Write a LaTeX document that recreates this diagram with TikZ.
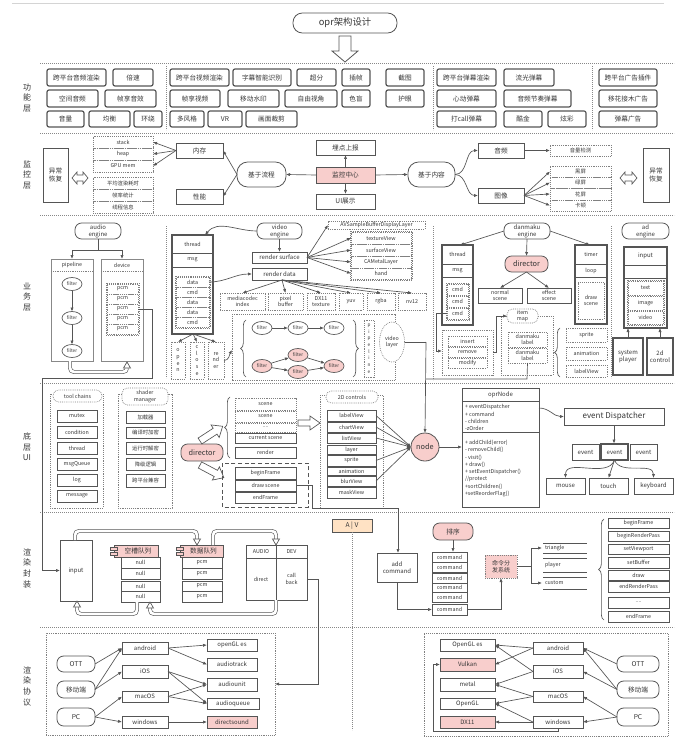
\documentclass[tikz,border=0pt]{standalone}
\usepackage{fontspec}
\setmainfont{Noto Sans CJK SC}
\usetikzlibrary{arrows.meta,shapes.geometric,decorations.pathreplacing}
\definecolor{lnc}{RGB}{85,85,85}
\definecolor{txc}{RGB}{55,55,55}
\definecolor{pkc}{RGB}{248,206,204}
\definecolor{pec}{RGB}{255,226,196}
\newcommand\B[7][]{\node[#1,minimum width={(#4-#2)*0.75pt},minimum height={(#5-#3)*0.75pt}] (#6) at ({(#2+#4)/2},{(#3+#5)/2}) {#7};}
\newcommand\tridown[2]{\draw[cn,fill=white] (#1-3.5,#2-6) -- (#1+3.5,#2-6) -- (#1,#2) -- cycle;}
\newcommand\triup[2]{\draw[cn,fill=white] (#1-3.5,#2+6) -- (#1+3.5,#2+6) -- (#1,#2) -- cycle;}
\tikzset{
 every node/.style={inner sep=0pt,outer sep=0pt,text=txc,align=center,font=\fontsize{4}{4.8}\selectfont},
 f5/.style={font=\fontsize{5}{6}\selectfont},
 f45/.style={font=\fontsize{4.5}{5.2}\selectfont},
 f35/.style={font=\fontsize{3.5}{4.2}\selectfont},
 lay/.style={font=\fontsize{6}{8}\selectfont},
 bx/.style={draw=lnc,line width=0.5pt},
 fb/.style={draw=lnc,line width=0.9pt,rounded corners=1.5pt,f5},
 db/.style={draw=lnc!75,line width=0.5pt,dash pattern=on 0.6pt off 0.8pt},
 rb/.style={draw=lnc,line width=0.6pt,rounded corners=5pt},
 pkf/.style={fill=pkc},
 ar/.style={draw=lnc,line width=0.5pt,-{Latex[length=3pt,width=2.4pt]}},
 cn/.style={draw=lnc,line width=0.5pt},
 sep/.style={draw=lnc!70,line width=0.6pt,dash pattern=on 0.6pt off 0.9pt},
 pipe/.style={draw=lnc,line width=0.45pt,double=white,double distance=2pt,rounded corners=3pt},
 fl/.style={ellipse,draw=lnc,line width=0.5pt,minimum width=20*0.75pt,minimum height=13*0.75pt,f35},
 brc/.style={cn,decorate,decoration={brace,amplitude=4pt}},
}
\begin{document}
\begin{tikzpicture}[x=0.75pt,y=-0.75pt]
\fill[white] (0,0) rectangle (674,752);
\useasboundingbox (0,0) rectangle (674,752);
\draw[lnc!25,line width=0.6pt] (12,3) -- (664,3);

% ---------- title
\B[rb,rounded corners=7pt,font=\fontsize{7}{8}\selectfont]{293}{13}{397}{33}{title}{opr架构设计}
\draw[cn,line width=0.6pt,fill=white] (339,36) -- (351,36) -- (351,51) -- (358,51) -- (345,62) -- (332,51) -- (339,51) -- cycle;

% ---------- separators
\foreach \yy in {63,133,215,383,512,627} \draw[sep] (40,\yy) -- (674,\yy);
\draw[sep] (166,66) -- (166,130);
\draw[sep] (433,66) -- (433,130);
\draw[sep] (592,66) -- (592,130);
\draw[sep] (166,226) -- (166,378);
\draw[sep] (433,226) -- (433,380);
\draw[sep] (611,226) -- (611,378);

% ---------- layer labels
\node[lay] (L1) at (27,98) {功\\能\\层};
\node[lay] (L2) at (27,175) {监\\控\\层};
\node[lay] (L3) at (27,297) {业\\务\\层};
\node[lay] (L4) at (27,447) {底\\层\\UI};
\node[lay] (L5) at (27,568) {渲\\染\\封\\装};
\node[lay] (L6) at (27,686) {渲\\染\\协\\议};

% ---------- functional layer
\B[fb]{47}{69}{106}{86}{fa1}{跨平台音频渲染}
\B[fb]{113}{69}{153}{86}{fa2}{倍速}
\B[fb]{47}{90}{98}{107}{fa3}{空间音频}
\B[fb]{105}{90}{156}{107}{fa4}{帧享音效}
\B[fb]{47}{111}{84}{127}{fa5}{音量}
\B[fb]{89}{111}{130}{127}{fa6}{均衡}
\B[fb]{134}{111}{162}{127}{fa7}{环绕}

\B[fb]{170}{69}{229}{86}{fv1}{跨平台视频渲染}
\B[fb]{233}{69}{291}{86}{fv2}{字幕智能识别}
\B[fb]{297}{69}{336}{86}{fv3}{超分}
\B[fb]{342}{69}{370}{86}{fv4}{插帧}
\B[fb]{386}{69}{424}{86}{fv5}{截图}
\B[fb]{170}{90}{220}{107}{fv6}{帧享视频}
\B[fb]{228}{90}{279}{107}{fv7}{移动水印}
\B[fb]{285}{90}{337}{107}{fv8}{自由视角}
\B[fb]{342}{90}{370}{107}{fv9}{色盲}
\B[fb]{386}{90}{424}{107}{fv10}{护眼}
\B[fb]{170}{111}{204}{127}{fv11}{多风格}
\B[fb]{208}{111}{242}{127}{fv12}{VR}
\B[fb]{246}{111}{297}{127}{fv13}{画面裁剪}

\B[fb]{437}{69}{496}{86}{fd1}{跨平台弹幕渲染}
\B[fb]{504}{69}{554}{86}{fd2}{流光弹幕}
\B[fb]{437}{90}{496}{107}{fd3}{心动弹幕}
\B[fb]{504}{90}{571}{107}{fd4}{音频节奏弹幕}
\B[fb]{437}{111}{496}{127}{fd5}{打call弹幕}
\B[fb]{504}{111}{542}{127}{fd6}{酷金}
\B[fb]{548}{111}{586}{127}{fd7}{炫彩}

\B[fb]{599}{69}{657}{86}{fg1}{跨平台广告插件}
\B[fb]{599}{90}{657}{107}{fg2}{移花接木广告}
\B[fb]{599}{111}{657}{127}{fg3}{弹幕广告}

% ---------- monitoring layer
\B[bx,f5]{43}{148}{68}{202}{yc1}{异常\\恢复}
\draw[cn,fill=white] (72,178) -- (77,172) -- (77,175) -- (83,175) -- (83,172) -- (88,178) -- (83,184) -- (83,181) -- (77,181) -- (77,184) -- cycle;
\B[db]{93}{136}{153}{148}{s1}{stack}
\B[db]{93}{148}{153}{160}{s2}{heap}
\B[db]{93}{160}{153}{172}{s3}{GPU mem}
\B[db]{93}{177}{153}{189}{s4}{平均渲染耗时}
\B[db]{93}{189}{153}{201}{s5}{帧率统计}
\B[db]{93}{201}{153}{213}{s6}{线程信息}
\B[bx,f5]{176}{143}{223}{158}{nc}{内存}
\B[bx,f5]{176}{189}{223}{204}{xn}{性能}
\B[rb,rounded corners=8pt,f5]{237}{162}{286}{187}{jlc}{基于流程}
\B[bx,pkf,f5]{316}{167}{375}{183}{jk}{监控中心}
\B[bx,f5]{316}{140}{375}{155}{md}{埋点上报}
\B[bx,f5]{316}{194}{375}{209}{uis}{UI展示}
\B[rb,rounded corners=8pt,f5]{408}{162}{455}{187}{jnr}{基于内容}
\B[bx,f5]{478}{143}{524}{158}{yp}{音频}
\B[bx,f5]{478}{188}{524}{203}{img}{图像}
\B[db]{550}{145}{611}{156}{ylj}{音量检测}
\B[db]{550}{166}{611}{177}{h1}{黑屏}
\B[db]{550}{177}{611}{188}{h2}{绿屏}
\B[db]{550}{188}{611}{200}{h3}{花屏}
\B[db]{550}{200}{611}{211}{h4}{卡顿}
\draw[cn,fill=white] (620,178) -- (625,172) -- (625,175) -- (632,175) -- (632,172) -- (637,178) -- (632,184) -- (632,181) -- (625,181) -- (625,184) -- cycle;
\B[bx,f5]{643}{148}{669}{202}{yc2}{异常\\恢复}
\foreach \t in {s1,s2,s3} \draw[ar] (nc.west) -- (\t.east);
\draw[ar] (jlc.west) -- (nc.east);
\draw[ar] (jlc.west) -- (xn.east);
\draw[ar] (jk.west) -- (jlc.east);
\draw[ar] (jk.east) -- (jnr.west);
\draw[ar] (jk.north) -- (md.south);
\draw[ar] (jk.south) -- (uis.north);
\draw[ar] (jnr.east) to[out=0,in=180] (yp.west);
\draw[ar] (jnr.east) to[out=0,in=180] (img.west);
\draw[ar] (yp.east) -- (ylj.west);
\foreach \t in {h1,h2,h3,h4} \draw[ar] (img.east) -- (\t.west);

% ---------- business: audio
\B[rb,f45]{75}{223}{121}{239}{ae}{audio\\engine}
\B[bx,draw=lnc!70]{51}{259}{93}{361}{pl}{}
\B[bx,draw=lnc!70]{101}{259}{143}{361}{dv}{}
\node (plh) at (72,265) {pipeline};
\node (dvh) at (122,265) {device};
\draw[db] (51,271) -- (93,271);
\draw[db] (101,271) -- (143,271);
\draw[cn] (ae.south) -- (98,250);
\draw[ar] (98,250) -| (pl.north);
\draw[ar] (98,250) -| (dv.north);
\node[fl] (fa) at (72,284) {filter};
\node[fl] (fb) at (72,318) {filter};
\node[fl] (fc) at (72,351) {filter};
\draw[ar] (fa) -- (fb);
\draw[ar] (fb) -- (fc);
\draw[db] (106,283) rectangle (139,335);
\B[db]{107}{284}{138}{294}{pc1}{pcm}
\B[db]{107}{294}{138}{304}{pc2}{pcm}
\B[db]{107}{304}{138}{314}{pc3}{pcm}
\B[db]{107}{314}{138}{324}{pc4}{pcm}
\B[db]{107}{324}{138}{334}{pc5}{pcm}
\draw[pipe] (70,361) -- (70,372) -- (127,372) -- (127,368);
\triup{127}{362}

% ---------- business: video
\B[bx,line width=0.9pt]{172}{235}{213}{334}{vth}{}
\draw[cn] (172,253) -- (213,253);
\draw[cn] (172,267) -- (213,267);
\node (vthl) at (192.5,244) {thread};
\node (vmsg) at (192.5,260) {msg};
\draw[db] (175,276) rectangle (210,328);
\B[db]{176}{277}{209}{287}{vd1}{data}
\B[db]{176}{287}{209}{297}{vd2}{cmd}
\B[db]{176}{297}{209}{307}{vd3}{data}
\B[db]{176}{307}{209}{317}{vd4}{data}
\B[db]{176}{317}{209}{327}{vd5}{cmd}
\B[db,font=\fontsize{4}{5}\selectfont]{171}{342}{185}{379}{vop}{o\\p\\e\\n}
\B[db,font=\fontsize{4}{5}\selectfont]{190}{342}{204}{379}{vcl}{c\\l\\o\\s\\e}
\B[db,font=\fontsize{4}{5}\selectfont]{208}{342}{224}{379}{vre}{re\\nd\\er}
\foreach \t in {vop,vcl,vre} \draw[ar] (193,334) -- (\t.north);

\B[rb,f45]{257}{223}{302}{239}{ve}{video\\engine}
\B[bx,f45]{252}{252}{307}{263}{rs}{render surface}
\B[bx,f45]{252}{268}{307}{280}{rd}{render data}
\draw[ar] (ve.south) -- (rs.north);
\draw[ar] (ve.west) to[out=180,in=50] (205,235);
\draw[ar] (vd1.east) to[out=0,in=180] (rd.west);
\B[db]{328}{221}{425}{229}{av}{AVSampleBufferDisplayLayer}
\draw[db] (350,231) rectangle (412,280);
\B[db]{351}{232}{411}{244}{tv}{textureView}
\B[db]{351}{244}{411}{256}{sv}{surfaceView}
\B[db]{351}{256}{411}{268}{cml}{CAMetalLayer}
\B[db]{351}{268}{411}{279}{hd}{hand}
\foreach \t in {av,tv,sv,cml,hd} \draw[ar] (rs.east) -- (\t.west);
\B[db]{220}{293}{265}{310}{m1}{mediacodec\\index}
\B[db]{268}{293}{303}{310}{m2}{pixel\\buffer}
\B[db]{307}{293}{335}{310}{m3}{DX11\\texture}
\B[db]{339}{293}{363}{310}{m4}{yuv}
\B[db]{367}{293}{395}{310}{m5}{rgba}
\B[db]{398}{293}{426}{310}{m6}{nv12}
\foreach \t in {m1,m2,m3,m4,m5,m6} \draw[ar] (282,280) -- (\t.north);

\draw[db] (232,314) rectangle (395,380);
\draw[brc] (246,377) -- (246,320);
\draw[brc] (353,320) -- (353,377);
\node[fl] (q1) at (262,328) {filter};
\node[fl] (q2) at (298,328) {filter};
\node[fl] (q3) at (334,328) {filter};
\draw[ar] (q1) -- (q2);
\draw[ar] (q2) -- (q3);
\node[fl,fill=pkc] (r1) at (262,366) {filter};
\node[fl,fill=pkc] (r2) at (298,355) {filter};
\node[fl,fill=pkc] (r3) at (298,372) {filter};
\node[fl,fill=pkc] (r4) at (334,366) {filter};
\draw[ar] (r1) -- (r2);
\draw[ar] (r1) -- (r3);
\draw[ar] (r2) -- (r4);
\draw[ar] (r3) -- (r4);
\B[db,font=\fontsize{3.5}{5}\selectfont]{364}{320}{374}{377}{plb}{p\\i\\p\\e\\l\\i\\n\\e}
\node[ellipse,db,fill=white,minimum width=25*0.75pt,minimum height=40*0.75pt] (vl) at (392,342) {video\\layer};
\draw[ar] (vre.east) to[out=0,in=-120] (232,350);

% ---------- business: danmaku
\B[rb,f45]{504}{223}{550}{239}{de}{danmaku\\engine}
\B[bx,line width=0.8pt]{442}{245}{473}{325}{dth}{}
\draw[cn] (442,264) -- (473,264);
\draw[cn] (442,277) -- (473,277);
\node (dthl) at (457.5,254.5) {thread};
\node (dmsg) at (457.5,270.5) {msg};
\draw[db] (446,283) rectangle (469,320);
\B[db]{447}{284}{468}{295}{dc1}{cmd}
\B[db]{447}{296}{468}{307}{dc2}{cmd}
\B[db]{447}{308}{468}{319}{dc3}{cmd}
\B[rb,pkf,font=\fontsize{5.5}{6}\selectfont]{505}{256}{548}{272}{dir1}{director}
\B[bx]{478}{288}{522}{303}{ns}{normal\\scene}
\B[bx]{527}{288}{571}{303}{es}{effect\\scene}
\B[bx,line width=0.8pt]{575}{245}{607}{324}{tim}{}
\draw[cn] (575,264) -- (607,264);
\draw[cn] (575,277) -- (607,277);
\node (timl) at (591,254.5) {timer};
\node (loopl) at (591,270.5) {loop};
\B[db]{578}{282}{604}{319}{dsc}{draw\\scene}
\draw[ar] (de.west) -- (460,245);
\draw[ar] (de.south) -- (dir1.north);
\draw[ar] (de.east) -- (590,245);
\draw[ar] (dir1.south) -- (ns.north);
\draw[ar] (dir1.south) -- (es.north);
\B[db]{501}{316}{553}{375}{dlg}{}
\B[db]{508}{332}{547}{347}{dl1}{danmaku\\label}
\B[db]{508}{348}{547}{363}{dl2}{danmaku\\label}
\B[db,rounded corners=4pt,fill=white]{507}{309}{538}{323}{imap}{item\\map}
\B[db]{442}{330}{493}{375}{irm}{}
\B[db]{448}{336}{487}{346}{ins}{insert}
\B[db]{448}{347}{487}{357}{rem}{remove}
\B[db]{448}{358}{487}{368}{mod}{modify}
\draw[ar] (493,352) -- (496,352) -- (496,316) -- (imap.west);
\draw[ar] (dc3.west) -- (436,313.5) -- (436,351) -- (442,351);
\draw[brc] (560,377) -- (560,328);
\B[db]{566}{328}{607}{342}{dsp}{sprite}
\B[db]{566}{347}{607}{360}{dan}{animation}
\B[db]{566}{365}{607}{377}{dlv}{labelView}

% ---------- business: ad
\B[rb,f45]{622}{223}{669}{239}{ade}{ad\\engine}
\B[bx,line width=0.8pt]{624}{247}{667}{328}{adb}{}
\draw[cn] (624,265) -- (667,265);
\draw[cn] (624,278) -- (667,278);
\node[f45] (adin) at (645.5,256) {input};
\draw[db] (627,280) rectangle (664,325);
\B[db]{628}{281}{663}{295}{adt}{text}
\B[db]{628}{296}{663}{310}{adi}{image}
\B[db]{628}{311}{663}{324}{adv}{video}
\B[bx,line width=0.8pt,f45]{613}{338}{643}{375}{sp}{system\\player}
\B[bx,line width=0.8pt,f45]{647}{338}{673}{375}{tdc}{2d\\control}
\draw[ar] (sp.north) -- (628,328);
\draw[ar] (tdc.north) -- (660,328);

% ---------- bottom UI
\draw[db] (50,394) rectangle (103,508);
\B[db,rounded corners=4pt,fill=white]{53}{390}{102}{402}{tcl}{tool chains}
\B[bx]{57}{410}{97}{422}{t1}{mutex}
\B[bx]{57}{426}{97}{438}{t2}{condition}
\B[bx]{57}{442}{97}{454}{t3}{thread}
\B[bx]{57}{458}{97}{470}{t4}{msgQueue}
\B[bx]{57}{474}{97}{486}{t5}{log}
\B[bx]{57}{490}{97}{502}{t6}{message}
\draw[db] (118,394) rectangle (172,508);
\B[db,rounded corners=4pt,fill=white]{122}{388}{168}{405}{shm}{shader\\manager}
\B[bx]{126}{411}{165}{423}{sh1}{加载器}
\B[bx]{126}{427}{165}{438}{sh2}{编译时加密}
\B[bx]{126}{442}{165}{454}{sh3}{运行时解密}
\B[bx]{126}{458}{165}{470}{sh4}{降级逻辑}
\B[bx]{126}{474}{165}{487}{sh5}{跨平台兼容}
\B[rb,pkf,font=\fontsize{5.5}{6}\selectfont]{181}{444}{223}{461}{dir2}{director}
\begin{scope}[shift={(200,441)},rotate=33]
\draw[cn,fill=white] (0,-3.5) -- (18,-3.5) -- (18,-7.5) -- (27,0) -- (18,7.5) -- (18,3.5) -- (0,3.5) -- cycle;
\end{scope}
\begin{scope}[shift={(200,465)},rotate=-28]
\draw[cn,fill=white] (0,-3.5) -- (18,-3.5) -- (18,-7.5) -- (27,0) -- (18,7.5) -- (18,3.5) -- (0,3.5) -- cycle;
\end{scope}
\draw[brc] (230,458) -- (230,397);
\B[db]{235}{398}{296}{410}{sc1}{scene}
\B[db]{235}{411}{296}{422}{sc2}{scene}
\B[db]{235}{423}{296}{432}{sc3}{....}
\B[bx]{235}{433}{296}{443}{sc4}{current scene}
\B[bx]{235}{447}{296}{458}{sc5}{render}
\draw[lnc,line width=0.6pt,dash pattern=on 3pt off 2pt] (222,463) rectangle (308,507);
\B[bx]{235}{467}{296}{479}{bf}{beginFrame}
\B[bx]{235}{480}{296}{491}{dsn}{draw scene}
\B[bx]{235}{492}{296}{503}{ef}{endFrame}
\draw[cn,fill=white] (298,420) -- (310,420) -- (310,416) -- (320,423) -- (310,430) -- (310,426) -- (298,426) -- cycle;
\draw[db] (320,395) rectangle (383,508);
\B[db,rounded corners=4pt,fill=white]{326}{391}{378}{403}{c2d}{2D controls}
\B[bx]{327}{410}{376}{421}{c1}{labelView}
\B[bx]{327}{422}{376}{432}{c2}{chartView}
\B[bx]{327}{433}{376}{443}{c3}{listView}
\B[bx]{327}{445}{376}{454}{c4}{layer}
\B[bx]{327}{455}{376}{466}{c5}{sprite}
\B[bx]{327}{467}{376}{475}{c6}{animation}
\B[bx]{327}{476}{376}{486}{c7}{blurView}
\B[bx]{327}{487}{376}{498}{c8}{maskView}
\node[circle,draw=lnc,line width=0.6pt,fill=pkc,minimum size=28*0.75pt,font=\fontsize{5.5}{6}\selectfont] (nd) at (425,447) {node};
\foreach \t in {c1,c2,c3,c5,c7} \draw[ar] (\t.east) -- (nd.west);
\draw[cn] (vl.east) -- (426,342);
\draw[cn] (dl2.south) -- (527,379) -- (426,379);
\draw[ar] (426,342) -- (nd.north);
% oprNode
\B[bx,line width=0.7pt]{462}{388}{539}{507}{opr}{}
\draw[cn] (462,401) -- (539,401);
\draw[cn] (462,432) -- (539,432);
\node[f45] (oprt) at (500.5,394.5) {oprNode};
\node[anchor=west] (oa1) at (465,407) {+ eventDispatcher};
\node[anchor=west] (oa2) at (465,414) {+ command};
\node[anchor=west] (oa3) at (465,421) {- children};
\node[anchor=west] (oa4) at (465,428) {-zOrder};
\node[anchor=west] (om1) at (465,443) {+ addChild(error)};
\node[anchor=west] (om2) at (465,450) {- removeChild()};
\node[anchor=west] (om3) at (465,457.5) {- visit()};
\node[anchor=west] (om4) at (465,465) {+ draw()};
\node[anchor=west] (om5) at (465,472) {+ setEventDispatcher()};
\node[anchor=west] (om6) at (465,479) {//protect};
\node[anchor=west] (om7) at (465,486.5) {+sortChildren()};
\node[anchor=west] (om8) at (465,494) {+setReorderFlag()};
\draw[ar] (nd.east) -- (opr.west |- nd.east);
\B[bx,line width=0.7pt,font=\fontsize{6}{7}\selectfont]{564}{408}{664}{425}{evd}{event Dispatcher}
\draw[ar] (539,408) to[out=0,in=180] (evd.west);
\B[bx,f45]{572}{444}{599}{460}{ev1}{event}
\B[bx,line width=0.8pt,f45]{601}{444}{628}{460}{ev2}{event}
\B[bx,f45]{630}{444}{657}{460}{ev3}{event}
\draw[ar] (evd.south) -- (614,443.5);
\B[bx,f45]{546}{478}{585}{494}{ms}{mouse}
\B[bx,f45]{589}{478}{628}{494}{tch}{touch}
\B[bx,f45]{634}{478}{673}{494}{kb}{keyboard}
\draw[ar] (ev2.south) to[out=-110,in=90] (ms.north);
\draw[ar] (ev2.south) -- (tch.north);
\draw[ar] (ev2.south) to[out=-70,in=90] (kb.north);

% ---------- render encapsulation
\B[bx,f45]{60}{540}{92}{601}{inp}{input}
\draw[ar] (pc3.east) -| (152,378) -- (42,378) -- (42,570.5) -- (inp.west);
\B[bx,pkf,f5]{114}{545}{158}{557}{qe}{\hspace{3pt}空槽队列}
\draw[cn,fill=pkc] (110,547.5) rectangle (117,550.5);
\draw[cn,fill=pkc] (110,552) rectangle (117,555);
\B[bx,pkf,f5]{180}{545}{223}{557}{qd}{\hspace{3pt}数据队列}
\draw[cn,fill=pkc] (176,547.5) rectangle (183,550.5);
\draw[cn,fill=pkc] (176,552) rectangle (183,555);
\B[bx]{121}{557}{160}{568}{n1}{null}
\B[bx]{121}{568}{160}{579}{n2}{null}
\B[bx]{121}{581}{160}{591}{n3}{null}
\B[bx]{121}{591}{160}{602}{n4}{null}
\B[bx]{182}{557}{222}{568}{p1}{pcm}
\B[bx]{182}{568}{222}{579}{p2}{pcm}
\B[bx]{182}{581}{222}{591}{p3}{pcm}
\B[bx]{182}{591}{222}{602}{p4}{pcm}
\B[bx]{246}{545}{276}{558}{au}{AUDIO}
\B[bx]{276}{545}{307}{558}{dev}{DEV}
\B[bx]{246}{558}{276}{600}{dirc}{direct}
\B[bx]{276}{558}{307}{600}{cb}{call\\back}
\draw[pipe] (75,540) -- (75,531) -- (197,531) -- (197,540);
\tridown{197}{545}
\draw[pipe] (213,545) -- (213,531) -- (276,531) -- (276,540);
\tridown{276}{545}
\draw[pipe] (137,602) -- (137,614) -- (77,614) -- (77,607);
\triup{77}{601}
\draw[pipe] (276,600) -- (276,614) -- (150,614) -- (150,608);
\triup{150}{602}
\B[bx,fill=pec,f5]{332}{519}{372}{532}{avb}{A | V}
\draw[sep] (avb.south) -- (352,730);

\B[rb,pkf,f5]{433}{523}{473}{540}{px}{排序}
\draw[ar] (px.south) -- (453,552);
\B[bx,f45]{377}{553}{417}{582}{addc}{add\\command}
\B[bx]{432}{552}{467}{562}{cm1}{command}
\B[bx]{432}{562}{467}{572}{cm2}{command}
\B[bx]{432}{573}{467}{583}{cm3}{command}
\B[bx]{432}{583}{467}{592}{cm4}{command}
\B[bx]{432}{592}{467}{602}{cm5}{command}
\B[bx]{432}{604}{467}{615}{cm6}{command}
\draw[ar] (dsn.east) -- (312,485.5) -- (312,508) -- (398,508) -- (addc.north -| 398,0);
\draw[ar] (addc.south) -- (397,609.5) -- (cm6.west);
\B[db,pkf,line width=0.7pt,f45]{485}{555}{517}{578}{mlf}{命令分\\发系统}
\draw[ar] (cm6.east) -- (501,609.5) -- (mlf.south);
\draw[cn] (mlf.east) -- (531,566.5);
\draw[ar] (531,566.5) |- (542,548);
\draw[ar] (531,566.5) |- (542,583);
\draw[cn] (543,543) -- (587,543); \draw[cn] (543,553) -- (587,553);
\node[anchor=west] (ptri) at (545,548) {triangle};
\draw[cn] (543,558) -- (587,558); \draw[cn] (543,572) -- (587,572);
\node[anchor=west] (ppl) at (545,565) {player};
\draw[cn] (543,577) -- (587,577); \draw[cn] (543,589) -- (587,589);
\node[anchor=west] (pcu) at (545,583) {custom};
\draw[brc] (604,620) -- (604,519);
\B[bx]{608}{518}{669}{528}{g1}{beginFrame}
\B[bx]{608}{531}{669}{541}{g2}{beginRenderPass}
\B[bx]{608}{544}{669}{554}{g3}{setViewport}
\B[bx]{608}{557}{669}{568}{g4}{setBuffer}
\B[bx]{608}{570}{669}{580}{g5}{draw}
\B[bx]{608}{581}{669}{592}{g6}{endRenderPass}
\B[bx]{608}{597}{669}{608}{g7}{....}
\B[bx]{608}{611}{669}{622}{g8}{endFrame}

% ---------- render protocol: left
\B[db]{46}{633}{275}{735}{lbox}{}
\draw[ar] (cb.east) -- (318,579) -- (318,684) -- (lbox.east);
\B[rb,f5]{57}{656}{95}{672}{lott}{OTT}
\B[rb,f5]{57}{681}{95}{698}{lmob}{移动端}
\B[rb,f5]{57}{708}{95}{726}{lpc}{PC}
\B[bx,f45]{122}{642}{168}{654}{land}{android}
\B[bx,f45]{122}{665}{168}{678}{lios}{iOS}
\B[bx,f45]{122}{691}{168}{702}{lmac}{macOS}
\B[bx,f45]{122}{716}{168}{728}{lwin}{windows}
\B[bx,f45]{207}{639}{257}{651}{lgl}{openGL es}
\B[bx,f45]{207}{658}{257}{671}{lat}{audiotrack}
\B[bx,f45]{207}{678}{257}{691}{lau}{audiounit}
\B[bx,f45]{207}{698}{259}{709}{laq}{audioqueue}
\B[bx,pkf,f45]{207}{716}{257}{728}{lds}{directsound}
\draw[ar] (lott.east) -- (land.west);
\draw[ar] (lmob.east) -- (land.west);
\draw[ar] (lmob.east) -- (lios.west);
\draw[ar] (lpc.east) -- (lmac.west);
\draw[ar] (lpc.east) -- (lwin.west);
\draw[ar] (land.east) -- (lgl.west);
\draw[ar] (land.east) -- (lat.west);
\draw[ar] (lios.east) -- (lau.west);
\draw[ar] (lios.east) -- (laq.west);
\draw[ar] (lmac.east) -- (lau.west);
\draw[ar] (lmac.east) -- (laq.west);
\draw[ar] (lwin.east) -- (lds.west);

% ---------- render protocol: right
\B[db]{424}{633}{668}{736}{rbox}{}
\B[bx,f45]{440}{639}{495}{651}{rgl}{OpenGL es}
\B[bx,pkf,f45]{440}{658}{495}{671}{rvk}{Vulkan}
\B[bx,f45]{440}{678}{495}{691}{rmt}{metal}
\B[bx,f45]{440}{698}{495}{709}{rog}{OpenGL}
\B[bx,pkf,f45]{440}{716}{495}{728}{rdx}{DX11}
\B[bx,f45]{533}{642}{583}{654}{rand}{android}
\B[bx,f45]{533}{665}{583}{678}{rios}{iOS}
\B[bx,f45]{533}{691}{583}{702}{rmac}{macOS}
\B[bx,f45]{533}{716}{583}{728}{rwin}{windows}
\B[rb,f5]{617}{656}{659}{672}{rott}{OTT}
\B[rb,f5]{617}{681}{659}{698}{rmob}{移动端}
\B[rb,f5]{617}{708}{659}{726}{rpc}{PC}
\draw[ar] (rott.west) -- (rand.east);
\draw[ar] (rmob.west) -- (rand.east);
\draw[ar] (rmob.west) -- (rios.east);
\draw[ar] (rpc.west) -- (rmac.east);
\draw[ar] (rpc.west) -- (rwin.east);
\draw[ar] (rand.west) -- (rgl.east);
\draw[ar] (rand.west) -- (rvk.east);
\draw[ar] (rios.west) -- (rgl.east);
\draw[ar] (rios.west) -- (rmt.east);
\draw[ar] (rmac.west) -- (rmt.east);
\draw[ar] (rmac.west) -- (rog.east);
\draw[ar] (rwin.west) -- (rog.east);
\draw[ar] (rwin.west) -- (rdx.east);
\draw[ar] (rwin.south) -- (558,731) -- (433,731) -- (433,664.5) -- (rvk.west);
\end{tikzpicture}
\end{document}
